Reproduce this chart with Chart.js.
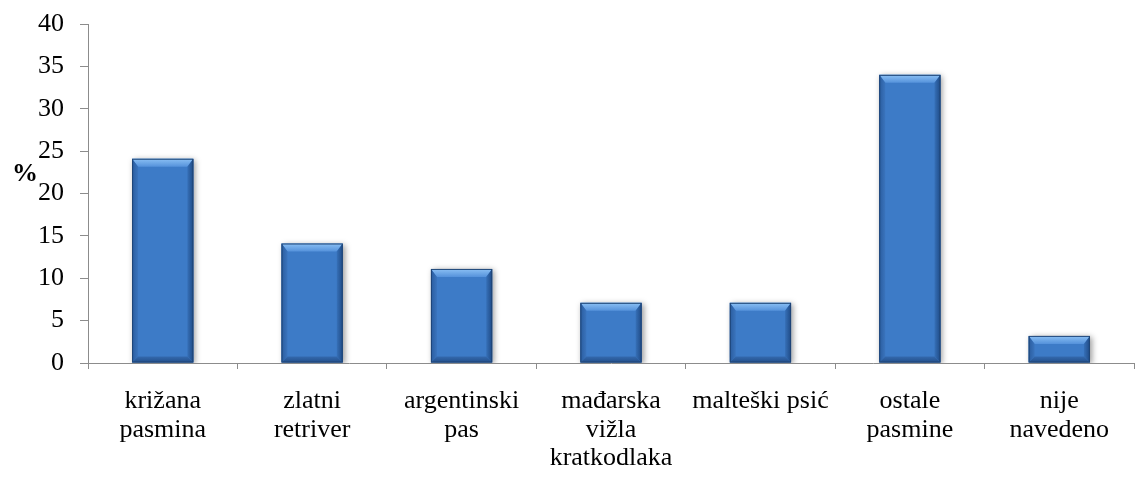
<!DOCTYPE html>
<html>
<head>
<meta charset="utf-8">
<script src="https://cdn.jsdelivr.net/npm/chart.js@4"></script>
<style>
  html, body { margin: 0; padding: 0; background: #ffffff; }
  #wrap { width: 1136px; height: 477px; position: relative; }
</style>
</head>
<body>
<div id="wrap"><canvas id="c" width="1136" height="477"></canvas></div>
<script>
const categories = [
  ["križana", "pasmina"],
  ["zlatni", "retriver"],
  ["argentinski", "pas"],
  ["mađarska", "vižla", "kratkodlaka"],
  ["malteški psić"],
  ["ostale", "pasmine"],
  ["nije", "navedeno"]
];
const percentValues = [24.1, 14.1, 11.1, 7.1, 7.1, 34.0, 3.2];
const yTickValues = [0, 5, 10, 15, 20, 25, 30, 35, 40];
const yAxisLabel = "%";

const FONT = "'Liberation Serif', 'Times New Roman', serif";

const bevelPlugin = {
  id: 'bevel',
  beforeDatasetDraw(chart) {
    const ctx = chart.ctx;
    ctx.save();
    ctx.shadowColor = 'rgba(0,0,0,0.4)';
    ctx.shadowBlur = 6;
    ctx.shadowOffsetX = 2;
    ctx.shadowOffsetY = 1;
  },
  afterDatasetDraw(chart) {
    const ctx = chart.ctx;
    ctx.restore();
    const meta = chart.getDatasetMeta(0);
    meta.data.forEach(el => {
      const p = el.getProps(['x', 'y', 'base', 'width'], true);
      const l = p.x - p.width / 2, r = p.x + p.width / 2;
      const t = p.y, b = p.base;
      const h = b - t;
      const bv = Math.min(8, h / 2);
      const sv = Math.min(6, h / 2);
      ctx.save();
      // top bevel
      let g = ctx.createLinearGradient(0, t, 0, t + bv);
      g.addColorStop(0, '#8BC0F4');
      g.addColorStop(1, '#5592DB');
      ctx.fillStyle = g;
      ctx.beginPath();
      ctx.moveTo(l, t); ctx.lineTo(r, t); ctx.lineTo(r - sv, t + bv); ctx.lineTo(l + sv, t + bv); ctx.closePath();
      ctx.fill();
      // left bevel
      g = ctx.createLinearGradient(l, 0, l + sv, 0);
      g.addColorStop(0, '#2A5C9E');
      g.addColorStop(1, '#3A74BD');
      ctx.fillStyle = g;
      ctx.beginPath();
      ctx.moveTo(l, t); ctx.lineTo(l + sv, t + bv); ctx.lineTo(l + sv, b - sv); ctx.lineTo(l, b); ctx.closePath();
      ctx.fill();
      // right bevel
      g = ctx.createLinearGradient(r - sv, 0, r, 0);
      g.addColorStop(0, '#3670B8');
      g.addColorStop(1, '#1F4A85');
      ctx.fillStyle = g;
      ctx.beginPath();
      ctx.moveTo(r, t); ctx.lineTo(r - sv, t + bv); ctx.lineTo(r - sv, b - sv); ctx.lineTo(r, b); ctx.closePath();
      ctx.fill();
      // bottom bevel
      g = ctx.createLinearGradient(0, b - sv, 0, b);
      g.addColorStop(0, '#3469AE');
      g.addColorStop(1, '#234F8A');
      ctx.fillStyle = g;
      ctx.beginPath();
      ctx.moveTo(l, b); ctx.lineTo(l + sv, b - sv); ctx.lineTo(r - sv, b - sv); ctx.lineTo(r, b); ctx.closePath();
      ctx.fill();
      // outline
      ctx.strokeStyle = '#1E4577';
      ctx.lineWidth = 1;
      ctx.strokeRect(l + 0.5, t + 0.5, p.width - 1, h - 1);
      ctx.restore();
    });
  }
};

const axisLabelPlugin = {
  id: 'axisLabel',
  afterDraw(chart) {
    const ctx = chart.ctx;
    const ys = chart.scales.y;
    ctx.save();
    ctx.font = "bold 26px " + FONT;
    ctx.fillStyle = '#000';
    ctx.textAlign = 'left';
    ctx.textBaseline = 'middle';
    ctx.fillText(yAxisLabel, 12, ys.getPixelForValue(22.3));
    ctx.restore();
  }
};

new Chart(document.getElementById('c'), {
  type: 'bar',
  data: {
    labels: categories,
    datasets: [{
      data: percentValues,
      backgroundColor: '#3D7BC7',
      borderWidth: 0,
      barPercentage: 0.41,
      categoryPercentage: 1.0
    }]
  },
  options: {
    responsive: false,
    animation: false,
    events: [],
    layout: { padding: { top: 24, right: 2, left: 0, bottom: 0 } },
    plugins: {
      legend: { display: false },
      tooltip: { enabled: false }
    },
    scales: {
      x: {
        offset: true,
        grid: {
          offset: true,
          drawOnChartArea: false,
          drawTicks: true,
          tickLength: 6,
          color: '#8C8C8C',
          lineWidth: 1
        },
        border: { color: '#8C8C8C', width: 1 },
        ticks: {
          color: '#000',
          font: { family: FONT, size: 26, lineHeight: 1.1 },
          maxRotation: 0,
          minRotation: 0,
          autoSkip: false,
          padding: 18
        },
        afterFit(scale) { scale.height = 114; scale.paddingLeft = 0; scale.paddingRight = 0; }
      },
      y: {
        min: 0,
        max: 40,
        afterBuildTicks(scale) { scale.ticks = yTickValues.map(v => ({ value: v })); },
        grid: {
          drawOnChartArea: false,
          drawTicks: true,
          tickLength: 8,
          color: '#8C8C8C',
          lineWidth: 1
        },
        border: { color: '#8C8C8C', width: 1 },
        ticks: {
          color: '#000',
          font: { family: FONT, size: 26 },
          padding: 16
        },
        afterFit(scale) { scale.width = 88; scale.paddingTop = 0; scale.paddingBottom = 0; }
      }
    }
  },
  plugins: [bevelPlugin, axisLabelPlugin]
});
</script>
</body>
</html>
